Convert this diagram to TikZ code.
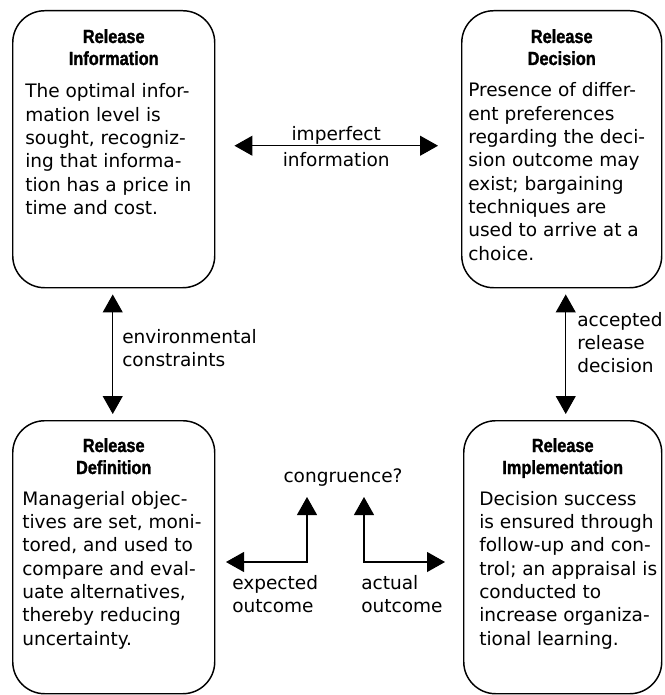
\documentclass[tikz,border=0pt]{standalone}
\usepackage{fontspec}
\setmainfont{DejaVu Sans}
\newfontfamily\headfont{Liberation Sans}[FakeStretch=0.86, BoldFeatures={FakeBold=1.4}]
\usetikzlibrary{arrows.meta,calc}
% stacked lines whose reference point is the baseline of the first line
\newcommand\leftlines[1]{\begin{tabular}[t]{@{}l@{}}#1\end{tabular}}
\newcommand\midlines[1]{\begin{tabular}[t]{@{}c@{}}#1\end{tabular}}

\begin{document}
\begin{tikzpicture}[x=0.75pt, y=-0.75pt,
  stagebox/.style={draw, line width=1.1pt, rounded corners=24pt, inner sep=0pt, anchor=north west},
  heading/.style={font=\headfont\bfseries\fontsize{14.25}{16.5}\selectfont, inner sep=0pt, anchor=base},
  bodytext/.style={font=\fontsize{13.9}{17.5}\selectfont, inner sep=0pt, anchor=base west},
  note/.style={font=\fontsize{13.9}{17.5}\selectfont, inner sep=0pt},
  link/.style={line width=0.8pt,
    {Triangle[length=13.5pt,width=15pt]}-{Triangle[length=13.5pt,width=15pt]}}
]
\fill[white] (0,0) rectangle (664,695);
\useasboundingbox (0,0) rectangle (664,695);

% the four stages
\node[stagebox, minimum width=151.5pt, minimum height=207.75pt] (info) at (12,10) {};
\node[stagebox, minimum width=150pt, minimum height=207.75pt] (decision) at (461,10) {};
\node[stagebox, minimum width=151.5pt, minimum height=204.75pt] (definition) at (12,420) {};
\node[stagebox, minimum width=148.5pt, minimum height=204.75pt] (implementation) at (463,420) {};

% headings
\node[heading] (infoHead) at ($(info.north)+(0,33)$) {\midlines{Release\\Information}};
\node[heading] (decisionHead) at ($(decision.north)+(0,33)$) {\midlines{Release\\Decision}};
\node[heading] (definitionHead) at ($(definition.north)+(0,32)$) {\midlines{Release\\Definition}};
\node[heading] (implementationHead) at ($(implementation.north)+(0,32)$) {\midlines{Release\\Implementation}};

% descriptions
\node[bodytext] (infoBody) at ($(info.north west)+(13,88)$) {\leftlines{The optimal infor-\\mation level is\\sought, recogniz-\\ing that informa-\\tion has a price in\\time and cost.}};
\node[bodytext] (decisionBody) at ($(decision.north west)+(7,87)$) {\leftlines{Presence of differ-\\ent preferences\\regarding the deci-\\sion outcome may\\exist; bargaining\\techniques are\\used to arrive at a\\choice.}};
\node[bodytext] (definitionBody) at ($(definition.north west)+(10,85)$) {\leftlines{Managerial objec-\\tives are set, moni-\\tored, and used to\\compare and eval-\\uate alternatives,\\thereby reducing\\uncertainty.}};
\node[bodytext] (implementationBody) at ($(implementation.north west)+(16,85)$) {\leftlines{Decision success\\is ensured through\\follow-up and con-\\trol; an appraisal is\\conducted to\\increase organiza-\\tional learning.}};

% links between the stages
\draw[link] ($(info.east)+(19,-3.5)$) -- ($(decision.west)+(-23,-3.5)$)
  node[midway, note, anchor=base, yshift=3.75pt] (imperfectLbl) {imperfect}
  node[midway, note, anchor=base, yshift=-15.75pt] (informationLbl) {information};
\draw[link] ($(info.south)+(-1,6)$) -- ($(definition.north)+(-1,-6)$);
\draw[link] ($(decision.south)+(4,6)$) -- ($(implementation.north)+(3,-6)$);

\node[note, anchor=base west] (envLbl) at (122,343) {\leftlines{environmental\\constraints}};
\node[note, anchor=base west] (acceptedLbl) at (577,326) {\leftlines{accepted\\release\\decision}};

% outcome comparison
\node[note, anchor=base] (congruence) at (343,482) {congruence?};
\coordinate (expectedTip) at (307,497);
\coordinate (expectedEnd) at (226,562);
\coordinate (actualTip) at (364,497);
\coordinate (actualEnd) at (445,562);
\draw[link] (expectedTip) |- (expectedEnd);
\draw[link] (actualTip) |- (actualEnd);
\node[note, anchor=base west] (expectedLbl) at (232,589) {\leftlines{expected\\outcome}};
\node[note, anchor=base west] (actualLbl) at (361,589) {\leftlines{actual\\outcome}};
\end{tikzpicture}
\end{document}
